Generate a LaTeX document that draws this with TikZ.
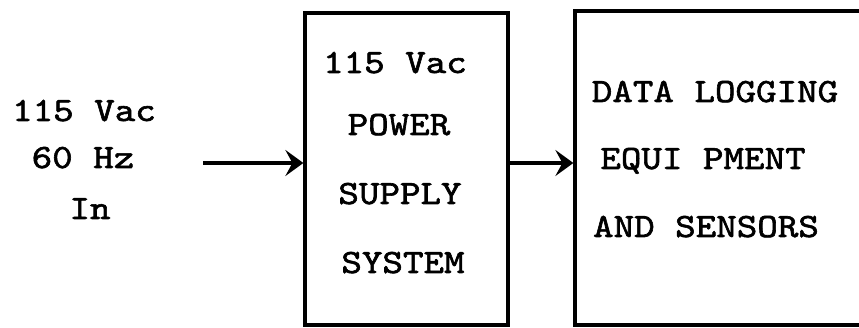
\documentclass[tikz,border=0pt]{standalone}
\usepackage{fontspec}
\newfontfamily\twfont{lmmono10-regular.otf}[FakeStretch=1.15,FakeBold=1.8]
\usetikzlibrary{arrows.meta}
\tikzset{
  blk/.style={draw, line width=3.2pt, rectangle, inner sep=0pt},
  lbl/.style={font=\twfont\fontsize{34}{40}\selectfont, inner sep=0pt, anchor=base},
  conn/.style={line width=3.2pt, -{Stealth[length=18pt,width=26pt,inset=7pt]}}
}
\begin{document}
\begin{tikzpicture}[x=1pt,y=-1pt]
\useasboundingbox (0,0) rectangle (859,328);
\clip (0,0) rectangle (859,328);
\node[blk, minimum width=203pt, minimum height=312pt] (psu) at (406.5,169) {};
\node[blk, minimum width=310pt, minimum height=314pt] (dl) at (730,168) {};
\node[lbl] (l1) at (84,121) {115 Vac};
\node[lbl] (l2) at (83,168) {60 Hz};
\node[lbl] (l3) at (90,219) {In};
\coordinate (src) at (203,163);
\node[lbl] (p1) at (395,73) {115 Vac};
\node[lbl] (p2) at (399,135) {POWER};
\node[lbl] (p3) at (400,204) {SUPPLY};
\node[lbl] (p4) at (403,273) {SYSTEM};
\node[lbl] (d1) at (715,102) {DATA LOGGING};
\node[lbl] (d2) at (703,169) {EQUI PMENT};
\node[lbl] (d3) at (706,237) {AND SENSORS};
\draw[conn] (src) -- (src -| psu.west);
\draw[conn] (psu.east |- src) -- (dl.west |- src);
\end{tikzpicture}
\end{document}
